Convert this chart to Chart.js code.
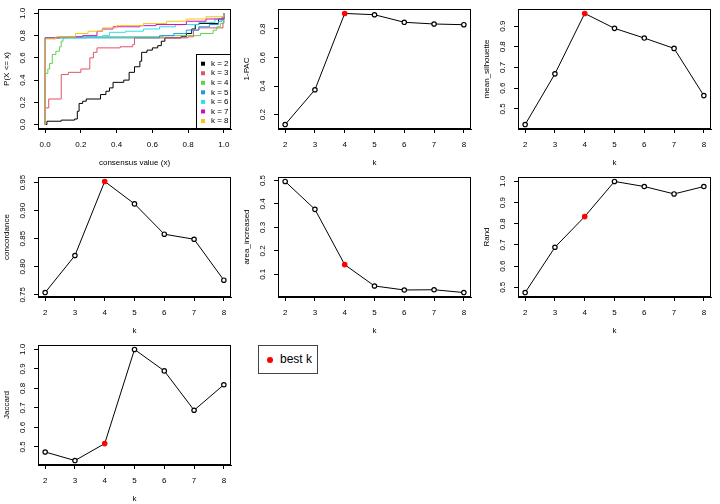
<!DOCTYPE html>
<html>
<head>
<meta charset="utf-8">
<script src="https://cdn.jsdelivr.net/npm/chart.js@4.4.1/dist/chart.umd.min.js"></script>
<style>
body { margin: 0; background: #fff; width: 720px; height: 504px; position: relative; overflow: hidden; font-family: 'Liberation Sans', Arial, sans-serif; }
canvas { position: absolute; }
#bestk { position: absolute; left: 258px; top: 345px; width: 58px; height: 27px; border: 1px solid #444; background: #fff; }
#bestk .dot { position: absolute; left: 8px; top: 11px; width: 6px; height: 6px; border-radius: 50%; background: #ff0000; }
#bestk .txt { position: absolute; left: 21px; top: 6px; font-size: 12px; color: #000; }
</style>
</head>
<body>
<canvas id="ecdf" width="240" height="168" style="left:0;top:0"></canvas>
<canvas id="pac" width="240" height="168" style="left:240px;top:0"></canvas>
<canvas id="sil" width="240" height="168" style="left:480px;top:0"></canvas>
<canvas id="conc" width="240" height="168" style="left:0;top:168px"></canvas>
<canvas id="area" width="240" height="168" style="left:240px;top:168px"></canvas>
<canvas id="rand" width="240" height="168" style="left:480px;top:168px"></canvas>
<canvas id="jac" width="240" height="168" style="left:0;top:336px"></canvas>
<div id="bestk"><span class="dot"></span><span class="txt">best k</span></div>

<script>
// values
var kValues = [2, 3, 4, 5, 6, 7, 8];
var bestK = 4;
var onePAC = [0.130, 0.374, 0.909, 0.900, 0.847, 0.835, 0.830];
var meanSilhouette = [0.424, 0.669, 0.961, 0.889, 0.842, 0.792, 0.564];
var concordance = [0.754, 0.820, 0.952, 0.912, 0.858, 0.849, 0.776];
var areaIncreased = [0.496, 0.377, 0.141, 0.050, 0.033, 0.034, 0.022];
var randIndex = [0.475, 0.689, 0.834, 1.000, 0.976, 0.941, 0.976];
var jaccard = [0.474, 0.430, 0.517, 1.000, 0.890, 0.688, 0.819];

// ecdf steps [consensus value, P(X <= x)]
var ecdfK2 = [[0,0],[0.01,0.03],[0.09,0.04],[0.165,0.05],[0.18,0.12],[0.19,0.19],[0.21,0.21],[0.23,0.23],[0.31,0.27],[0.34,0.30],[0.36,0.33],[0.38,0.38],[0.44,0.40],[0.47,0.47],[0.50,0.52],[0.53,0.57],[0.54,0.65],[0.57,0.67],[0.60,0.69],[0.63,0.71],[0.65,0.75],[0.67,0.78],[0.76,0.79],[0.79,0.82],[0.82,0.86],[0.84,0.90],[0.86,0.91],[0.97,0.95],[1,1]];
var ecdfK3 = [[0,0],[0,0.15],[0.02,0.23],[0.09,0.45],[0.13,0.47],[0.2,0.5],[0.25,0.6],[0.27,0.65],[0.29,0.69],[0.42,0.70],[0.49,0.72],[0.5,0.78],[0.8,0.79],[0.83,0.85],[0.86,0.87],[0.995,0.92],[1,1]];
var ecdfK4 = [[0,0],[0,0.46],[0.015,0.5],[0.025,0.55],[0.04,0.63],[0.06,0.66],[0.08,0.70],[0.09,0.75],[0.1,0.78],[0.12,0.79],[0.66,0.80],[0.87,0.82],[0.94,0.85],[0.96,0.88],[0.98,0.91],[1,1]];
var ecdfK5 = [[0,0],[0,0.78],[0.64,0.80],[0.72,0.82],[0.79,0.85],[0.86,0.88],[0.92,0.90],[0.97,0.93],[0.99,0.97],[1,1]];
var ecdfK6 = [[0,0],[0,0.78],[0.23,0.79],[0.32,0.80],[0.36,0.83],[0.45,0.84],[0.55,0.86],[0.64,0.88],[0.73,0.90],[0.86,0.92],[0.95,0.95],[1,1]];
var ecdfK7 = [[0,0],[0,0.78],[0.08,0.79],[0.21,0.80],[0.29,0.84],[0.32,0.86],[0.38,0.88],[0.53,0.89],[0.62,0.90],[0.79,0.93],[0.9,0.95],[1,1]];
var ecdfK8 = [[0,0],[0,0.77],[0.06,0.79],[0.17,0.82],[0.24,0.84],[0.32,0.87],[0.4,0.89],[0.55,0.91],[0.68,0.93],[0.79,0.95],[0.9,0.97],[1,1]];
var ecdfLabels = ['k = 2', 'k = 3', 'k = 4', 'k = 5', 'k = 6', 'k = 7', 'k = 8'];
var ecdfColors = ['#000000', '#DF536B', '#61D04F', '#2297E6', '#28E2E5', '#CD0BBC', '#F5C710'];

// ticks
var kTicks = [2, 3, 4, 5, 6, 7, 8];
var kTickLabels = ['2', '3', '4', '5', '6', '7', '8'];
var unitTicks = [0, 0.2, 0.4, 0.6, 0.8, 1];
var unitTickLabels = ['0.0', '0.2', '0.4', '0.6', '0.8', '1.0'];
var pacTicks = [0.2, 0.4, 0.6, 0.8];
var pacTickLabels = ['0.2', '0.4', '0.6', '0.8'];
var silTicks = [0.5, 0.6, 0.7, 0.8, 0.9];
var silTickLabels = ['0.5', '0.6', '0.7', '0.8', '0.9'];
var concTicks = [0.75, 0.80, 0.85, 0.90, 0.95];
var concTickLabels = ['0.75', '0.80', '0.85', '0.90', '0.95'];
var areaTicks = [0.1, 0.2, 0.3, 0.4, 0.5];
var areaTickLabels = ['0.1', '0.2', '0.3', '0.4', '0.5'];
var randTicks = [0.5, 0.6, 0.7, 0.8, 0.9, 1.0];
var randTickLabels = ['0.5', '0.6', '0.7', '0.8', '0.9', '1.0'];

var FONT = "'Liberation Sans', Arial, sans-serif";
Chart.defaults.font.family = FONT;
Chart.defaults.font.size = 8;
Chart.defaults.color = '#000';

// box round the plot, rotated y labels, optional legend
var rFrame = {
    id: 'rFrame',
    afterDraw: function (chart, args, opts) {
        var ctx = chart.ctx, a = chart.chartArea, y = chart.scales.y;
        ctx.save();
        if (opts.legend) {
            var sets = chart.data.datasets;
            var lw = 35, lh = 75;
            var lx = a.right - lw, ly = a.bottom - lh;
            ctx.fillStyle = '#fff';
            ctx.fillRect(lx, ly, lw, lh);
            ctx.strokeStyle = '#000';
            ctx.lineWidth = 1;
            ctx.strokeRect(lx + 0.5, ly + 0.5, lw - 1, lh - 1);
            ctx.font = '8px ' + FONT;
            ctx.textAlign = 'left';
            ctx.textBaseline = 'middle';
            for (var i = 0; i < sets.length; i++) {
                var ry = ly + 9.7 + i * 9.55;
                ctx.fillStyle = sets[i].borderColor;
                ctx.fillRect(lx + 5, ry - 2, 4, 4);
                ctx.fillStyle = '#000';
                ctx.fillText(sets[i].label, lx + 15, ry);
            }
        }
        ctx.strokeStyle = '#000';
        ctx.lineWidth = 1;
        ctx.strokeRect(a.left + 0.5, a.top + 0.5, a.right - a.left - 1, a.bottom - a.top - 1);
        ctx.fillStyle = '#000';
        ctx.font = '8px ' + FONT;
        ctx.textAlign = 'center';
        ctx.textBaseline = 'middle';
        y.ticks.forEach(function (t, i) {
            ctx.save();
            ctx.translate(23, y.getPixelForValue(t.value));
            ctx.rotate(-Math.PI / 2);
            ctx.fillText(opts.yLabels[i], 0, 0);
            ctx.restore();
        });
        ctx.restore();
    }
};

function padRange(lo, hi) {
    var d = (hi - lo) * 0.04;
    return [lo - d, hi + d];
}

function baseOptions(xRange, xTicks, xLabels, xTitle, yRange, yTicks, yLabels, yTitle, legend) {
    return {
        responsive: false,
        animation: false,
        events: [],
        layout: { padding: { top: 9, right: 9, left: 0, bottom: 0 } },
        plugins: {
            legend: { display: false },
            tooltip: { enabled: false },
            rFrame: { yLabels: yLabels, legend: legend }
        },
        scales: {
            x: {
                type: 'linear',
                min: xRange[0],
                max: xRange[1],
                afterBuildTicks: function (s) { s.ticks = xTicks.map(function (v) { return { value: v }; }); },
                afterFit: function (s) { s.height = 39; },
                grid: { drawOnChartArea: false, tickLength: 4, color: '#000' },
                border: { color: '#000' },
                ticks: { autoSkip: false, maxRotation: 0, padding: 7, callback: function (v, i) { return xLabels[i]; } },
                title: { display: true, text: xTitle, padding: 0 }
            },
            y: {
                type: 'linear',
                min: yRange[0],
                max: yRange[1],
                afterBuildTicks: function (s) { s.ticks = yTicks.map(function (v) { return { value: v }; }); },
                afterFit: function (s) { s.width = 38; },
                grid: { drawOnChartArea: false, tickLength: 4, color: '#000' },
                border: { color: '#000' },
                ticks: { display: false },
                title: { display: true, text: yTitle, padding: { top: 2, bottom: 0 } }
            }
        }
    };
}

function kPanel(id, values, yTicks, yLabels, yTitle) {
    var yr = padRange(Math.min.apply(null, values), Math.max.apply(null, values));
    new Chart(document.getElementById(id), {
        type: 'line',
        data: {
            datasets: [{
                data: kValues.map(function (k, i) { return { x: k, y: values[i] }; }),
                borderColor: '#000',
                borderWidth: 1,
                pointRadius: 2.2,
                pointBorderWidth: 1.2,
                pointBackgroundColor: kValues.map(function (k) { return k === bestK ? '#ff0000' : '#fff'; }),
                pointBorderColor: kValues.map(function (k) { return k === bestK ? '#ff0000' : '#000'; })
            }]
        },
        options: baseOptions(padRange(2, 8), kTicks, kTickLabels, 'k', yr, yTicks, yLabels, yTitle, false),
        plugins: [rFrame]
    });
}

var ecdfSeries = [ecdfK2, ecdfK3, ecdfK4, ecdfK5, ecdfK6, ecdfK7, ecdfK8];
new Chart(document.getElementById('ecdf'), {
    type: 'line',
    data: {
        datasets: ecdfSeries.map(function (s, i) {
            return {
                label: ecdfLabels[i],
                data: s.map(function (p) { return { x: p[0], y: p[1] }; }),
                borderColor: ecdfColors[i],
                borderWidth: 1,
                pointRadius: 0,
                stepped: true,
                order: ecdfSeries.length - i
            };
        })
    },
    options: baseOptions(padRange(0, 1), unitTicks, unitTickLabels, 'consensus value (x)', padRange(0, 1), unitTicks, unitTickLabels, 'P(X <= x)', true),
    plugins: [rFrame]
});

kPanel('pac', onePAC, pacTicks, pacTickLabels, '1-PAC');
kPanel('sil', meanSilhouette, silTicks, silTickLabels, 'mean_silhouette');
kPanel('conc', concordance, concTicks, concTickLabels, 'concordance');
kPanel('area', areaIncreased, areaTicks, areaTickLabels, 'area_increased');
kPanel('rand', randIndex, randTicks, randTickLabels, 'Rand');
kPanel('jac', jaccard, randTicks, randTickLabels, 'Jaccard');
</script>
</body>
</html>
